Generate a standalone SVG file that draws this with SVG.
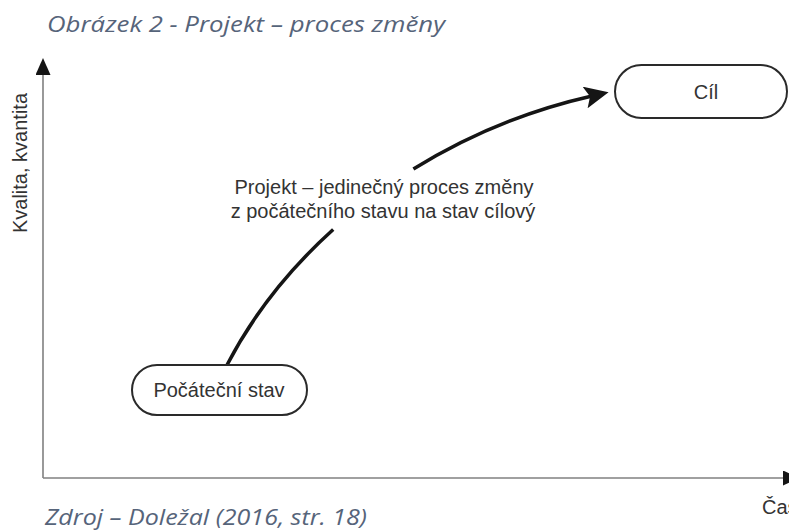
<svg xmlns="http://www.w3.org/2000/svg" width="789" height="531" viewBox="0 0 789 531">
  <style>
    .cap { font-family: "Open Sans", "Lato", sans-serif; font-style: italic; font-weight: 400; font-size: 21px; fill: #56647a; }
    .lbl { font-family: "Liberation Sans", Arial, sans-serif; font-size: 20px; fill: #333333; }
    .box { fill: #ffffff; stroke: #2a2a2a; stroke-width: 2; }
    .axis { fill: none; stroke: #808080; stroke-width: 1.6; }
    .flow { fill: none; stroke: #151515; stroke-width: 3.5; stroke-linecap: butt; }
  </style>
  <defs>
    <marker id="axisHead" viewBox="0 0 17 15" refX="2" refY="7.5" markerWidth="17" markerHeight="15" markerUnits="userSpaceOnUse" orient="auto">
      <path d="M0,0 L17,7.5 L0,15 Z" fill="#151515"/>
    </marker>
    <marker id="flowHead" viewBox="0 0 24 22" refX="7" refY="11" markerWidth="24" markerHeight="22" markerUnits="userSpaceOnUse" orient="auto">
      <path d="M0,0 L24,11 L0,22 L5,11 Z" fill="#151515"/>
    </marker>
  </defs>

  <text class="cap" x="47" y="32" textLength="398" lengthAdjust="spacingAndGlyphs">Obrázek 2 - Projekt – proces změny</text>

  <g id="connectors">
    <path id="y-axis" class="axis" d="M43,478 L43,73" marker-end="url(#axisHead)"/>
    <path id="x-axis" class="axis" d="M43,478 L785,478" marker-end="url(#axisHead)"/>
    <path id="flow-lower" class="flow" d="M227,365 C252.2,316.4 288.1,270.2 333.2,229.5"/>
    <path id="flow-upper" class="flow" d="M413.4,169.1 C465.8,136.6 525.8,111 592,96" marker-end="url(#flowHead)"/>
  </g>

  <g id="label-y-axis">
    <text class="lbl" transform="translate(27,163) rotate(-90)" text-anchor="middle">Kvalita, kvantita</text>
  </g>
  <g id="label-x-axis">
    <text class="lbl" x="762" y="514">Čas</text>
  </g>

  <g id="node-start">
    <rect class="box" x="132" y="365" width="175" height="50" rx="25" ry="25"/>
    <text class="lbl" x="219" y="397" text-anchor="middle">Počáteční stav</text>
  </g>

  <g id="node-goal">
    <rect class="box" x="615" y="65" width="172" height="53" rx="26.5" ry="26.5"/>
    <text class="lbl" x="706" y="99" text-anchor="middle">Cíl</text>
  </g>

  <g id="label-process">
    <text class="lbl" x="384" y="194" text-anchor="middle">Projekt – jedinečný proces změny</text>
    <text class="lbl" x="383" y="218" text-anchor="middle">z počátečního stavu na stav cílový</text>
  </g>

  <text class="cap" x="45" y="525" textLength="322" lengthAdjust="spacingAndGlyphs">Zdroj – Doležal (2016, str. 18)</text>
</svg>
